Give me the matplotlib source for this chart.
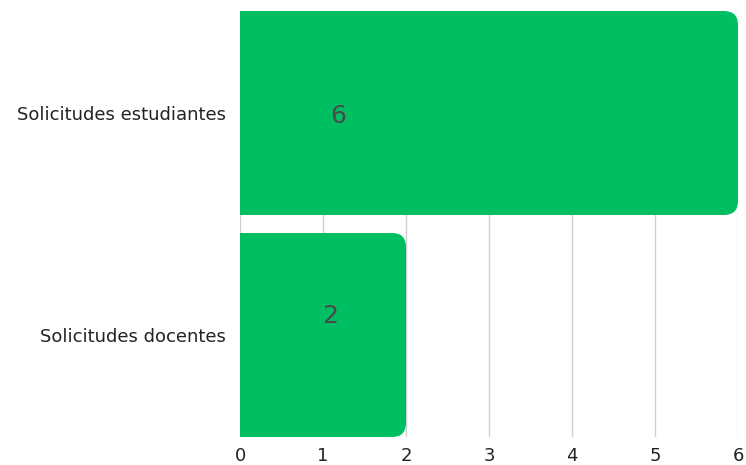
import numpy as np
import matplotlib.pyplot as plt
from matplotlib.patches import FancyBboxPatch

categories = ['Solicitudes docentes', 'Solicitudes estudiantes']
values = [2, 6]

green = '#00BF63'
bar_h = 0.919
r_x = 0.17
r_y = 0.063

fig = plt.figure(figsize=(7.46, 4.65), dpi=100)
ax = fig.add_axes([240 / 746, 28 / 465, 498 / 746, 426 / 465])

ypos = np.arange(len(categories))
vals = np.array(values, dtype=float)

# square part of each bar, rounded end drawn on top
ax.barh(ypos, vals - r_x, height=bar_h, color=green, zorder=3)
for y, v in zip(ypos, vals):
    p = FancyBboxPatch((v - 2 * r_x, y - bar_h / 2), 2 * r_x, bar_h,
                       boxstyle=f'round,pad=0,rounding_size={r_x}',
                       mutation_aspect=r_y / r_x,
                       facecolor=green, edgecolor='none', zorder=3)
    ax.add_patch(p)

# value labels (offsets match the reference placement)
label_dx = [1.08, 1.18]
label_dy = [0.086, -0.014]
for y, v, dx, dy in zip(ypos, values, label_dx, label_dy):
    ax.text(dx, y + dy, str(v), ha='center', va='center',
            fontsize=18, color='#4a4a4a', zorder=4)

ax.set_xlim(0, 6)
ax.set_ylim(-bar_h / 2, len(categories) - 1 + bar_h / 2)
ax.set_xticks(range(0, 7))
ax.set_yticks(ypos)
ax.set_yticklabels(categories)
ax.tick_params(axis='both', length=0, labelsize=13, colors='#222222')
ax.tick_params(axis='y', pad=10)
ax.tick_params(axis='x', pad=7)
ax.grid(axis='x', color='#d0d0d0', linewidth=1, zorder=0)
for s in ax.spines.values():
    s.set_visible(False)

fig.savefig('out.png', dpi=100)
